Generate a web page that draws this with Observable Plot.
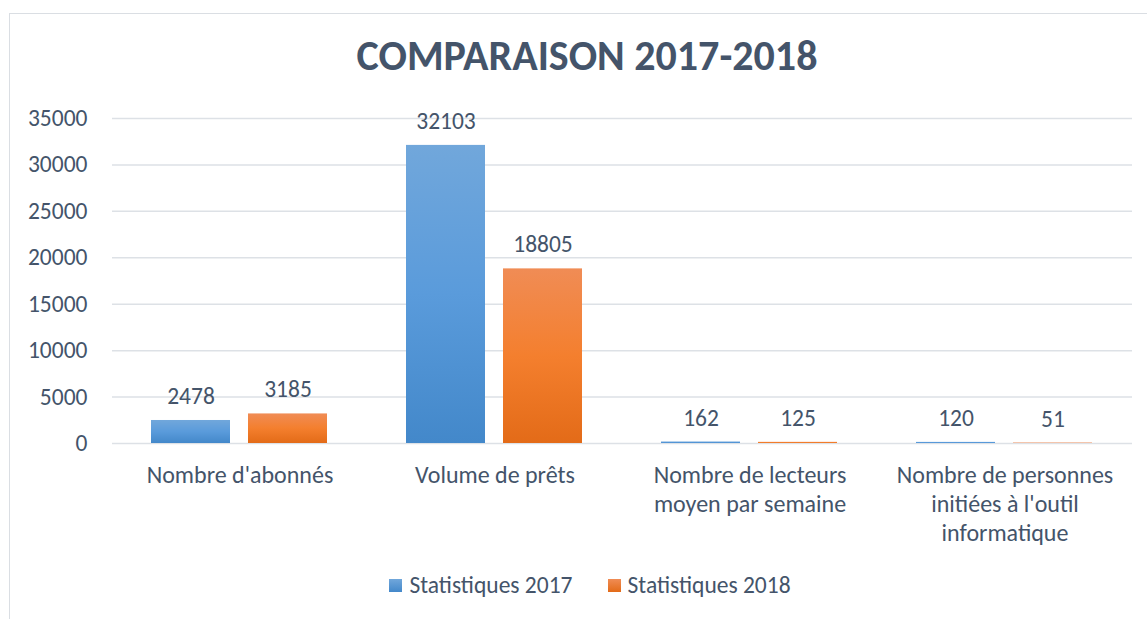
<!DOCTYPE html>
<html>
<head>
<meta charset="utf-8">
<script src="https://cdn.jsdelivr.net/npm/d3@7"></script>
<script src="https://cdn.jsdelivr.net/npm/@observablehq/plot@0.6"></script>
<style>
  html, body { margin: 0; padding: 0; background: #fff; }
  #wrap { position: relative; width: 1147px; height: 619px; overflow: hidden; font-family: Carlito, Lato, sans-serif; color: #44546A; }
  #frame { position: absolute; left: 9px; top: 13px; width: 1200px; height: 700px; border: 1.5px solid #DADEE3; box-sizing: border-box; }
  #title { position: absolute; top: 31px; left: 0; width: 1174px; text-align: center; font-size: 42px; font-weight: 700; color: #44546A; line-height: 1.2; }
  #chart { position: absolute; left: 0; top: 90px; }
  #legend { position: absolute; top: 571px; left: 0; width: 1180px; display: flex; justify-content: center; gap: 35px; font-size: 23.5px; color: #44546A; }
  .item { display: flex; align-items: center; gap: 7px; }
  .sw { width: 13px; height: 13px; display: inline-block; }
</style>
</head>
<body>
<div id="wrap">
  <div id="frame"></div>
  <div id="title">COMPARAISON 2017-2018</div>
  <div id="chart"></div>
  <div id="legend"></div>
</div>
<script>
const categories = [
  "Nombre d'abonnés",
  "Volume de prêts",
  "Nombre de lecteurs\nmoyen par semaine",
  "Nombre de personnes\ninitiées à l'outil\ninformatique"
];
const series = ["Statistiques 2017", "Statistiques 2018"];
const values2017 = [2478, 32103, 162, 120];
const values2018 = [3185, 18805, 125, 51];
const yTicks = [0, 5000, 10000, 15000, 20000, 25000, 30000, 35000];

const gradIds = {"Statistiques 2017": "gBlue", "Statistiques 2018": "gOrange"};

const data = [];
categories.forEach((c, i) => {
  data.push({cat: c, series: series[0], value: values2017[i]});
  data.push({cat: c, series: series[1], value: values2018[i]});
});

const chart = Plot.plot({
  width: 1147,
  height: 463,
  marginLeft: 110,
  marginRight: 14,
  marginTop: 28,
  marginBottom: 110,
  style: {fontFamily: "Carlito, Lato, sans-serif", color: "#44546A", background: "transparent"},
  fx: {domain: categories, padding: 0, label: null},
  x: {domain: series, paddingInner: 0.1837, paddingOuter: 0.397, axis: null},
  y: {domain: [0, 35000], label: null},
  marks: [
    Plot.gridY(yTicks, {stroke: "#DDE1E6", strokeOpacity: 1, strokeWidth: 1.5}),
    Plot.axisY(yTicks, {tickSize: 0, tickPadding: 25, fontSize: 23.5, fill: "#44546A", tickFormat: d => String(d), label: null}),
    Plot.axisFx({anchor: "bottom", tickSize: 0, tickPadding: 19, fontSize: 24, fill: "#44546A", lineHeight: 1.2, label: null, lineAnchor: "top"}),
    Plot.barY(data, {fx: "cat", x: "series", y: "value", fill: d => `url(#${gradIds[d.series]})`}),
    Plot.text(data, {fx: "cat", x: "series", y: "value", text: d => String(d.value), dy: -24, fontSize: 23.5, fill: "#44546A"})
  ]
});

// gradients
const svg = d3.select(chart);
const defs = svg.insert("defs", ":first-child");
const gb = defs.append("linearGradient").attr("id", "gBlue").attr("x1", 0).attr("y1", 0).attr("x2", 0).attr("y2", 1);
gb.append("stop").attr("offset", "0%").attr("stop-color", "#71A7DB");
gb.append("stop").attr("offset", "50%").attr("stop-color", "#5A9BDB");
gb.append("stop").attr("offset", "100%").attr("stop-color", "#4388CA");
const go = defs.append("linearGradient").attr("id", "gOrange").attr("x1", 0).attr("y1", 0).attr("x2", 0).attr("y2", 1);
go.append("stop").attr("offset", "0%").attr("stop-color", "#F08C55");
go.append("stop").attr("offset", "50%").attr("stop-color", "#F47F2E");
go.append("stop").attr("offset", "100%").attr("stop-color", "#E36B18");

document.getElementById("chart").appendChild(chart);

const legend = d3.select("#legend");
series.forEach(s => {
  const it = legend.append("div").attr("class", "item");
  it.append("span").attr("class", "sw").style("background", s === series[0]
    ? "linear-gradient(#71A7DB, #4388CA)" : "linear-gradient(#F08C55, #E36B18)");
  it.append("span").text(s);
});
</script>
</body>
</html>
